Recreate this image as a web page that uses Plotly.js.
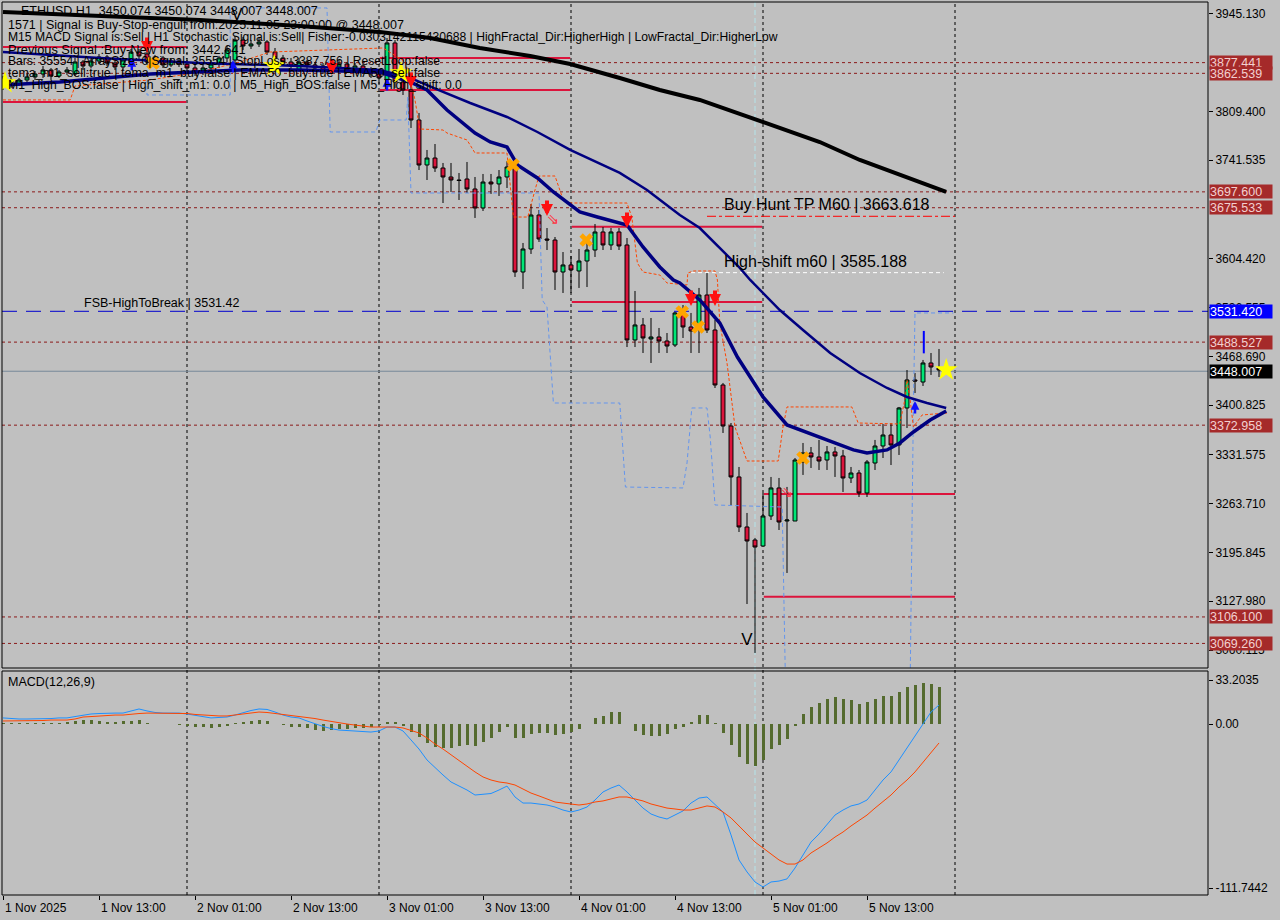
<!DOCTYPE html>
<html><head><meta charset="utf-8">
<script src="https://cdn.plot.ly/plotly-3.0.1.min.js"></script>
<style>html,body{margin:0;padding:0;background:#c0c0c0;}#chart{width:1280px;height:920px;}</style>
</head><body><div id="chart"></div>
<script>
// ---------------- DATA ----------------
const open = [3844.9,3853.3,3847.7,3853.3,3857.5,3861.6,3867.2,3858.8,3864.4,3861.6,
3878.3,3872.8,3879.7,3885.3,3876.9,3871.4,3878.3,3892.2,3889.5,3878.3,
3883.9,3874.2,3879.7,3875.5,3870.0,3864.4,3870.0,3875.5,3883.9,3881.1,
3908.9,3900.6,3903.4,3906.2,3892.2,3883.9,3878.3,3867.2,3878.3,3874.2,
3872.8,3865.8,3871.4,3875.5,3867.2,3872.8,3867.2,3861.6,3853.3,3904.8,
3850.5,3839.4,3797.6,3735.0,3744.7,3730.8,3718.3,3714.1,3715.5,3701.6,
3675.2,3711.3,3708.6,3718.3,3732.2,3586.1,3618.1,3665.4,3632.0,3630.6,
3586.1,3595.9,3587.5,3601.4,3616.7,3641.8,3623.7,3641.8,3623.7,3491.5,
3512.4,3492.9,3495.7,3490.1,3484.5,3529.1,3509.6,3508.2,3554.1,3505.4,
3428.9,3371.8,3300.9,3231.3,3213.2,3204.8,3246.6,3285.6,3239.6,3239.6,
3321.7,3334.3,3328.7,3324.5,3335.7,3330.1,3299.5,3306.4,3278.6,3320.3,
3344.0,3359.3,3345.4,3396.9,3435.9,3433.0,3459.5,3452.5,3450.074];
const high = [3858.8,3857.5,3856.1,3861.6,3865.8,3872.8,3870.0,3867.2,3871.4,3883.9,
3881.1,3883.9,3889.5,3888.1,3879.7,3885.3,3896.4,3896.4,3903.4,3888.1,
3886.7,3883.9,3883.9,3881.1,3875.5,3875.5,3881.1,3886.7,3900.6,3914.5,
3913.1,3908.9,3911.7,3908.9,3897.8,3888.1,3883.9,3883.9,3881.1,3878.3,
3876.9,3875.5,3881.1,3878.3,3876.9,3875.5,3871.4,3867.2,3911.7,3908.9,
3856.1,3844.9,3807.4,3755.9,3764.2,3737.8,3737.8,3723.9,3739.2,3718.3,
3722.5,3722.5,3728.0,3740.6,3739.2,3626.5,3680.7,3672.4,3647.3,3634.8,
3613.9,3608.4,3618.1,3626.5,3652.9,3648.7,3647.3,3647.3,3633.4,3559.7,
3522.1,3522.1,3508.2,3501.2,3530.5,3540.2,3529.1,3563.9,3584.7,3519.3,
3431.7,3376.0,3314.8,3250.8,3216.0,3278.6,3300.9,3299.5,3287.0,3327.3,
3348.2,3342.6,3352.4,3344.0,3342.6,3338.5,3314.8,3310.6,3324.5,3352.4,
3374.6,3376.0,3398.3,3449.7,3445.6,3463.7,3473.4,3479.0,3450.074];
const low = [3839.4,3842.2,3844.9,3849.1,3853.3,3856.1,3853.3,3856.1,3860.2,3858.8,
3867.2,3870.0,3875.5,3872.8,3867.2,3867.2,3874.2,3882.5,3874.2,3875.5,
3870.0,3871.4,3871.4,3864.4,3858.8,3860.2,3864.4,3870.0,3878.3,3876.9,
3895.0,3896.4,3899.2,3888.1,3878.3,3872.8,3867.2,3864.4,3867.2,3864.4,
3861.6,3861.6,3867.2,3863.0,3864.4,3861.6,3856.1,3847.7,3847.7,3842.2,
3832.4,3786.5,3728.0,3714.1,3725.3,3682.1,3697.4,3686.3,3696.0,3661.3,
3671.0,3694.7,3691.9,3703.0,3579.2,3562.5,3611.2,3627.9,3616.7,3561.1,
3556.9,3556.9,3563.9,3565.2,3607.0,3616.7,3616.7,3616.7,3481.7,3481.7,
3473.4,3459.5,3473.4,3473.4,3481.7,3494.3,3473.4,3473.4,3501.2,3424.7,
3362.1,3261.9,3224.3,3124.1,3056.0,3204.8,3241.0,3227.1,3167.3,3239.6,
3303.7,3313.4,3310.6,3310.6,3300.9,3280.0,3292.5,3273.0,3273.0,3310.6,
3327.3,3317.5,3331.5,3369.0,3417.7,3427.5,3442.8,3440.0,3448.007];
const close = [3853.3,3847.7,3853.3,3857.5,3861.6,3867.2,3858.8,3864.4,3867.2,3878.3,
3872.8,3879.7,3885.3,3876.9,3871.4,3881.1,3892.2,3886.7,3878.3,3883.9,
3874.2,3879.7,3875.5,3870.0,3864.4,3870.0,3875.5,3883.9,3895.0,3908.9,
3900.6,3903.4,3906.2,3892.2,3883.9,3878.3,3872.8,3878.3,3874.2,3870.0,
3865.8,3871.4,3875.5,3867.2,3872.8,3867.2,3861.6,3856.1,3904.8,3850.5,
3839.4,3797.6,3735.0,3744.7,3730.8,3718.3,3714.1,3713.4,3701.6,3675.2,
3711.3,3708.6,3718.3,3732.2,3586.1,3618.1,3665.4,3632.0,3630.6,3586.1,
3595.9,3588.9,3601.4,3616.7,3641.8,3623.7,3641.8,3622.3,3491.5,3512.4,
3494.3,3495.7,3490.1,3483.1,3529.1,3509.6,3504.0,3554.1,3505.4,3428.9,
3371.8,3300.9,3231.3,3211.8,3203.4,3246.6,3285.6,3238.2,3241.0,3324.5,
3334.3,3328.7,3323.1,3335.7,3330.1,3299.5,3306.4,3278.6,3321.7,3344.0,
3359.3,3345.4,3396.9,3435.9,3434.4,3459.5,3453.9,3449.7,3448.007];

// MACD(12,26,9) panel
const macdHist = [0.7,0.7,0.5,0.7,0.5,0.7,0.5,0.7,1.0,2.2,
2.6,2.6,2.2,1.5,1.5,1.8,2.2,2.6,0.4,0.2,
0.1,-0.2,-0.9,-1.3,-1.8,-2.2,-2.4,-2.0,-1.3,0.4,
1.5,2.2,2.6,2.2,0.1,-0.9,-1.8,-2.2,-2.9,-4.0,
-4.6,-4.2,-3.5,-3.3,-2.9,-2.4,-1.8,-0.7,1.1,1.1,
-1.3,-5.1,-8.3,-12.3,-14.9,-16.0,-15.6,-14.5,-13.8,-14.5,
-11.6,-9.0,-5.1,-1.8,-9.0,-9.5,-6.8,-6.2,-6.2,-7.2,
-6.6,-5.5,-3.5,0.3,4.2,5.3,7.7,7.7,0.1,-4.4,
-7.2,-7.7,-7.7,-6.8,-3.3,-1.8,1.1,5.9,5.9,0.4,
-5.7,-13.8,-21.5,-26.4,-27.7,-23.7,-16.5,-13.8,-9.9,-1.1,
6.6,11.2,13.8,16.5,17.8,16.5,15.8,13.2,14.5,16.5,
18.5,18.5,21.1,24.4,25.7,27.0,26.4,24.4];
const macdMain = [4.0,3.6,3.3,3.3,3.3,3.3,3.6,4.0,4.0,4.9,
5.9,6.6,6.9,7.2,7.2,7.2,8.6,9.9,8.6,7.6,
7.2,7.2,7.2,6.6,5.6,4.6,4.0,4.3,4.6,5.9,
7.6,8.9,9.9,9.6,7.9,5.9,4.6,4.0,2.0,0.0,
-1.6,-3.0,-4.0,-4.3,-4.6,-4.9,-5.3,-4.6,-2.0,-2.0,
-4.6,-10.5,-16.5,-23.7,-29.0,-33.6,-38.2,-40.9,-43.5,-46.8,
-46.1,-45.8,-43.5,-40.9,-48.1,-52.1,-52.1,-52.7,-53.4,-54.7,
-56.7,-58.0,-56.7,-54.7,-50.1,-44.8,-42.2,-40.2,-44.8,-50.1,
-55.4,-59.3,-61.3,-62.6,-60.0,-57.3,-52.1,-48.8,-48.1,-53.4,
-58.0,-73.1,-89.6,-97.5,-104.1,-107.4,-104.1,-103.5,-102.1,-94.9,
-86.3,-77.8,-72.5,-66.6,-60.0,-56.7,-54.0,-52.7,-50.1,-43.5,
-36.9,-31.6,-23.7,-15.8,-7.2,0.7,7.9,12.5];
const macdSignal = [2.0,2.0,2.0,2.3,2.3,2.3,2.6,2.6,2.6,3.3,
4.6,4.9,5.3,5.6,5.9,5.9,6.6,6.9,7.2,7.2,
7.2,7.2,7.2,6.9,6.3,5.9,5.6,5.3,5.3,5.9,
6.6,7.2,7.9,7.6,6.9,6.6,5.9,5.3,4.6,3.6,
2.6,1.6,0.7,0.0,-0.7,-1.3,-2.0,-2.0,-2.0,-2.0,
-2.6,-4.0,-5.9,-9.2,-13.2,-16.5,-20.4,-23.7,-27.7,-31.6,
-34.9,-36.9,-38.2,-38.9,-40.2,-42.8,-45.5,-47.4,-49.4,-51.4,
-52.1,-52.7,-53.4,-52.7,-51.4,-50.7,-49.4,-48.1,-48.1,-49.4,
-50.7,-52.7,-54.0,-55.4,-56.0,-56.7,-56.7,-55.4,-54.0,-54.7,
-58.0,-61.9,-67.2,-72.5,-77.8,-81.7,-85.7,-89.6,-92.3,-92.3,
-89.6,-85.0,-81.7,-78.4,-74.5,-71.2,-67.2,-63.3,-60.0,-55.4,
-51.4,-46.8,-41.5,-36.9,-31.6,-25.0,-18.5,-12.5];

// Moving averages (bar index, price) read at their visible vertices
const ema200X = [0,12.1,24.6,37.1,47.1,53.4,59.6,65.9,70.9,77.1,82.1,87.1,92.1,97.1,102.1,107.1,112.1,117.1,117.9];
const ema200Y = [3947.9,3942.3,3936.8,3928.4,3920.1,3911.7,3897.8,3886.7,3875.5,3856.1,3839.4,3825.5,3806.0,3786.5,3767.0,3742.0,3721.1,3700.2,3697.6];
const slowX = [0,12.1,24.6,37.1,47.1,50.9,54.4,58.4,63,66.8,70.9,74.3,77.1,80.5,83,84.6,87.1,89.6,92.1,93.4,97.1,100,103.4,107.1,110.5,113,115.5,117.9];
const slowY = [3892.2,3883.9,3876.9,3872.8,3867.2,3856.1,3839.4,3821.3,3801.8,3780.9,3755.9,3737.8,3723.9,3700.2,3679.3,3665.4,3647.3,3619.5,3591.7,3575.0,3533.2,3505.4,3473.4,3445.6,3424.7,3412.2,3403.8,3396.9];
const fastX = [0,7.1,18.4,29.6,37.1,47.1,50.9,53,55.5,59,60.9,63,64.3,66.8,68.8,70.5,72.1,74.3,76.3,78,80,82.1,83.8,84.6,87.1,89.6,91.8,93.8,95,98,102.1,106.3,108,110.5,112.1,113.8,115.9,117.9];
const fastY = [3846.3,3850.5,3861.6,3867.2,3867.2,3864.4,3850.5,3839.4,3811.5,3779.5,3767.0,3760.0,3735.0,3716.9,3697.4,3683.5,3669.6,3662.6,3657.1,3651.5,3620.9,3593.1,3575.0,3570.8,3547.2,3515.1,3467.8,3431.7,3412.2,3373.2,3356.5,3338.5,3334.3,3338.5,3348.2,3363.5,3380.2,3392.7];
const trailX = [0,8.4,9,18.4,24.6,29.6,33.4,39.6,47.5,50.3,51.5,52.1,55,55.5,58,59,63,63.8,65.6,66.5,67,69,69.9,70.5,78,78.6,79.3,80,82.1,83,85.5,85.6,86.3,89,89.3,89.6,90.5,91.5,93,96.9,97.5,98,106.1,106.9,112.1,112.8,113,113.4,113.8,114.9,118];
const trailY = [3825.5,3825.5,3844.9,3853.3,3864.4,3878.3,3892.2,3895.0,3897.8,3878.3,3825.5,3785.1,3783.7,3779.5,3769.8,3751.7,3751.7,3662.6,3662.6,3700.2,3719.7,3719.7,3690.5,3682.1,3682.1,3662.6,3598.6,3586.1,3581.9,3570.8,3568.0,3584.7,3587.5,3587.5,3575.0,3515.1,3459.5,3370.4,3323.1,3323.1,3370.4,3398.3,3398.3,3376.0,3374.6,3412.2,3435.9,3408.0,3370.4,3387.2,3389.9];
const channelX = [18,18,28.4,28.4,40.5,40.9,46.6,47.1,50.4,50.6,51,67,67.4,68,68.8,77.1,77.8,85,85.5,86.1,88,88.4,89,97.4,97.8,113.4,113.8,114,118.8];
const channelY = [3864.4,3832.4,3832.4,3953.5,3953.5,3780.9,3780.9,3797.6,3797.6,3829.6,3696.0,3696.0,3547.2,3537.4,3403.8,3403.8,3286.9,3285.6,3320.3,3396.9,3396.9,3356.5,3261.9,3259.1,3018.4,3018.4,3398.3,3529.1,3529.1];

// Signal markers
const sellArrowX = [18,41.1,51,68,78,86,89];
const sellArrowY = [3902.0,3871.4,3853.3,3675.2,3658.5,3549.9,3549.9];
const hollowArrowX = [68.75,98];
const hollowArrowY = [3658.5,3278.6];
const buyArrowX = [16.1,28.75,48,114];
const buyArrowY = [3874.2,3871.4,3846.3,3396.9];
const buyBarX = [115.1];
const buyBarY = [3488.5];
const crossX = [18.75,63.75,72.9,84.9,86.9,100];
const crossY = [3876.9,3735.0,3630.6,3530.5,3509.6,3327.3];
const starX = [0.25,33.9,49.75,117.9];
const starY = [3849.1,3872.8,3863.0,3449.7];
const fractalX = [29.25,93];
const fractalY = [3942.4,3072.6];

// Levels
const dottedLevels = [3877.441,3862.539,3697.600,3675.533,3488.527,3372.958,3106.100,3069.260];
const fsbLevel = 3531.42;
const lastPrice = 3448.007;
const buyHuntTP = 3663.618;
const highShiftM60 = 3585.188;
const daySegStart = [0,0,47.1,47.1,71.1,71.1,95.1,95.1];
const daySegEnd = [22.9,22.9,70.9,70.9,94.9,94.9,119,119];
const daySegPrice = [3899.2,3822.7,3883.9,3839.4,3649.2,3544.4,3277.2,3134.2];
const daySeparators = [23,47,71,95,119];
const lowMarkerBar = 94;

// Axis labels
const priceTicks = [3945.130,3809.400,3741.535,3604.420,3536.555,3468.690,3400.825,3331.575,3263.710,3195.845,3127.980,3060.115];
const timeTickBars = [0,12,24,36,48,60,72,84,96,108];
const timeTickLabels = ["1 Nov 2025","1 Nov 13:00","2 Nov 01:00","2 Nov 13:00","3 Nov 01:00","3 Nov 13:00","4 Nov 01:00","4 Nov 13:00","5 Nov 01:00","5 Nov 13:00"];
const macdTickVals = [29.0, 0, -108.1];
const macdTickText = ["33.2035","0.00","-111.7442"];

const infoLines = [
 "1571 | Signal is Buy-Stop-engulf from:2025.11.05 23:00:00 @ 3448.007",
 "M15 MACD Signal is:Sell | H1 Stochastic Signal is:Sell| Fisher:-0.0303142115430688 | HighFractal_Dir:HigherHigh | LowFractal_Dir:HigherLow",
 "Previous Signal :Buy-New from: 3442.641",
 "Bars: 35554 | ArraySize: 0|Signal: 35554 | StopLoss: 3387.756 | ResetLoop:false",
 "tema_m1_sell:true | tema_m1_buy:false | EMA50_buy:true | EMA50_sell:false",
 "M1_High_BOS:false | High_shift_m1: 0.0 | M5_High_BOS:false | M5_High_shift: 0.0"
];
const infoSizes = [12.5,12.15,12.8,12.1,12.5,12.2];

// ---------------- LAYOUT HELPERS ----------------
const W=1280,H=920,ML=2,MR=72,MT=2,MB=25;
const PW=W-ML-MR, PH=H-MT-MB;
const px = x => (x-ML)/PW;
const py = y => (H-MB-y)/PH;
const mainDom=[py(668),1], macdDom=[0,py(671)];
const FONT='Liberation Sans, Arial, sans-serif';

const barIndex = open.map((_,i)=>i);
const macdIndex = macdHist.map((_,i)=>i);

const traces = [
 {type:'candlestick', x:barIndex, open:open, high:high, low:low, close:close,
  increasing:{line:{color:'#000',width:1}, fillcolor:'#00e676'},
  decreasing:{line:{color:'#000',width:1}, fillcolor:'#dc143c'},
  whiskerwidth:0, xaxis:'x', yaxis:'y', hoverinfo:'skip'},
 {type:'scatter', mode:'lines', x:channelX, y:channelY, line:{color:'#6495ed',width:1,dash:'4px,3px'}, yaxis:'y'},
 {type:'scatter', mode:'lines', x:trailX, y:trailY, line:{color:'#ff4500',width:1,dash:'3px,2px'}, yaxis:'y'},
 {type:'scatter', mode:'lines', x:ema200X, y:ema200Y, line:{color:'#000',width:4}, yaxis:'y'},
 {type:'scatter', mode:'lines', x:slowX, y:slowY, line:{color:'#000080',width:2.5}, yaxis:'y'},
 {type:'scatter', mode:'lines', x:fastX, y:fastY, line:{color:'#000080',width:3.5}, yaxis:'y'},
 {type:'scatter', mode:'text', x:hollowArrowX, y:hollowArrowY, text:hollowArrowX.map(()=>'⇘'), textfont:{family:'DejaVu Sans',size:15,color:'#ff3040'}, yaxis:'y'},
 {type:'scatter', mode:'markers', x:buyBarX, y:buyBarY, marker:{symbol:'line-ns',size:16,line:{color:'#0000ff',width:2}}, yaxis:'y'},
 {type:'scatter', mode:'markers', x:crossX, y:crossY, marker:{symbol:'x',size:12,color:'#ffa500',line:{width:0}}, yaxis:'y'},
 {type:'scatter', mode:'markers', x:starX, y:starY, marker:{symbol:'star',size:17,color:'#ffff00',line:{width:0}}, yaxis:'y'},
 {type:'scatter', mode:'text', x:fractalX, y:fractalY, text:fractalX.map(()=>'V'), textfont:{family:FONT,size:17,color:'#000'}, yaxis:'y'},
 {type:'bar', x:macdIndex, y:macdHist, width:0.375, marker:{color:'#556b2f',line:{width:0}}, xaxis:'x', yaxis:'y2'},
 {type:'scatter', mode:'lines', x:macdIndex, y:macdMain, line:{color:'#1e90ff',width:1}, xaxis:'x', yaxis:'y2'},
 {type:'scatter', mode:'lines', x:macdIndex, y:macdSignal, line:{color:'#ff4500',width:1}, xaxis:'x', yaxis:'y2'}
];

const shapes = [];
shapes.push({type:'rect',xref:'paper',yref:'paper',x0:0,x1:1,y0:mainDom[0],y1:mainDom[1],line:{color:'#000',width:1},layer:'above'});
shapes.push({type:'rect',xref:'paper',yref:'paper',x0:0,x1:1,y0:macdDom[0],y1:macdDom[1],line:{color:'#000',width:1},layer:'above'});
daySeparators.forEach(b=>shapes.push({type:'line',xref:'x',yref:'paper',x0:b,x1:b,y0:0,y1:1,line:{color:'#000',width:1,dash:'3px,3px'},layer:'below'}));
shapes.push({type:'line',xref:'x',yref:'paper',x0:lowMarkerBar,x1:lowMarkerBar,y0:0,y1:1,line:{color:'#b4e4ea',width:1,dash:'5px,3px'},layer:'below'});
dottedLevels.forEach(v=>shapes.push({type:'line',xref:'paper',yref:'y',x0:0,x1:1,y0:v,y1:v,line:{color:'#8b1a1a',width:1,dash:'3px,3px'},layer:'below'}));
shapes.push({type:'line',xref:'paper',yref:'y',x0:0,x1:1,y0:fsbLevel,y1:fsbLevel,line:{color:'#0000cd',width:1,dash:'15px,9px'},layer:'below'});
shapes.push({type:'line',xref:'paper',yref:'y',x0:0,x1:1,y0:lastPrice,y1:lastPrice,line:{color:'#778899',width:1},layer:'below'});
shapes.push({type:'line',xref:'x',yref:'y',x0:88,x1:119,y0:buyHuntTP,y1:buyHuntTP,line:{color:'#ff0000',width:1,dash:'dashdot'},layer:'below'});
shapes.push({type:'line',xref:'x',yref:'y',x0:86,x1:117.6,y0:highShiftM60,y1:highShiftM60,line:{color:'#ffffff',width:1,dash:'4px,3px'},layer:'below'});
daySegPrice.forEach((v,i)=>shapes.push({type:'line',xref:'x',yref:'y',x0:daySegStart[i],x1:daySegEnd[i],y0:v,y1:v,line:{color:'#dc143c',width:2},layer:'below'}));

const annotations = [];
// arrow signals as annotation arrows (tip at the signal, shifted so the arrow is centred on it)
sellArrowX.forEach((x,i)=>annotations.push({x:x,y:sellArrowY[i],xref:'x',yref:'y',text:'',showarrow:true,arrowhead:2,arrowsize:0.6,arrowwidth:4,arrowcolor:'#ff1010',ax:0,ay:-17,yshift:-8}));
buyArrowX.forEach((x,i)=>annotations.push({x:x,y:buyArrowY[i],xref:'x',yref:'y',text:'',showarrow:true,arrowhead:2,arrowsize:0.7,arrowwidth:2.5,arrowcolor:'#1010ff',ax:0,ay:14,yshift:7}));
const addPx = (text,x,y,size,opts={}) => annotations.push(Object.assign({text:text,xref:'paper',yref:'paper',x:px(x),y:py(y),xanchor:'left',yanchor:'middle',showarrow:false,font:{family:FONT,size:size,color:'#000'}},opts));
addPx('ETHUSD,H1\u00a0\u00a03450.074 3450.074 3448.007 3448.007',19,11,12.5);
infoLines.forEach((t,i)=>addPx(t,6,25+12*i,infoSizes[i]));
addPx('MACD(12,26,9)',6,682,12.5);
annotations.push({text:'Buy Hunt TP M60 | '+buyHuntTP.toFixed(3),xref:'x',yref:'y',x:89.9,y:buyHuntTP,xanchor:'left',yanchor:'bottom',yshift:1,showarrow:false,font:{family:FONT,size:16,color:'#000'}});
annotations.push({text:'High-shift m60 | '+highShiftM60.toFixed(3),xref:'x',yref:'y',x:89.9,y:highShiftM60,xanchor:'left',yanchor:'bottom',yshift:1,showarrow:false,font:{family:FONT,size:16,color:'#000'}});
annotations.push({text:'FSB-HighToBreak | '+fsbLevel.toFixed(2),xref:'x',yref:'y',x:29.8,y:fsbLevel,xanchor:'right',yanchor:'bottom',yshift:-1,showarrow:false,font:{family:FONT,size:12.5,color:'#000'}});
const boxLabel=(v,bg,fg)=>annotations.push({text:v.toFixed(3),xref:'paper',yref:'y',x:1,y:v,xanchor:'left',yanchor:'middle',xshift:1,width:62,height:13,align:'left',showarrow:false,bgcolor:bg,borderpad:0,font:{family:FONT,size:12.5,color:fg}});
dottedLevels.forEach(v=>boxLabel(v,'#a52a2a','#f2d0d0'));
boxLabel(fsbLevel,'#0000ff','#ffffff');
boxLabel(lastPrice,'#000000','#ffffff');
timeTickBars.forEach((b,i)=>annotations.push({text:timeTickLabels[i],xref:'x',yref:'paper',x:b,y:0,xanchor:'left',yanchor:'top',xshift:0,yshift:-4,showarrow:false,font:{family:FONT,size:12,color:'#000'}}));

const layout = {
 width:W,height:H,margin:{l:ML,r:MR,t:MT,b:MB,pad:0},
 paper_bgcolor:'#c0c0c0',plot_bgcolor:'#c0c0c0',showlegend:false,hovermode:false,
 font:{family:FONT,size:12,color:'#000'},
 xaxis:{domain:[0,1],range:[-0.125,150.625],anchor:'y2',showgrid:false,zeroline:false,showline:false,
   tickmode:'array',tickvals:timeTickBars,ticktext:timeTickBars.map(()=>' '),ticks:'outside',ticklen:4,tickcolor:'#000',
   rangeslider:{visible:false},fixedrange:true},
 yaxis:{domain:mainDom,range:[3035.07,3961.8],side:'right',anchor:'x',showgrid:false,zeroline:false,showline:false,
   tickmode:'array',tickvals:priceTicks,ticktext:priceTicks.map(v=>v.toFixed(3)),ticks:'outside',ticklen:4,tickcolor:'#000',
   tickfont:{family:FONT,size:12,color:'#000'},fixedrange:true},
 yaxis2:{domain:macdDom,range:[-112.69,34.93],side:'right',anchor:'x',showgrid:false,zeroline:false,showline:false,
   tickmode:'array',tickvals:macdTickVals,ticktext:macdTickText,ticks:'outside',ticklen:4,tickcolor:'#000',
   tickfont:{family:FONT,size:12,color:'#000'},fixedrange:true},
 bargap:0,
 shapes:shapes,annotations:annotations
};
Plotly.newPlot('chart',traces,layout,{staticPlot:true,displayModeBar:false});
</script>
</body></html>
